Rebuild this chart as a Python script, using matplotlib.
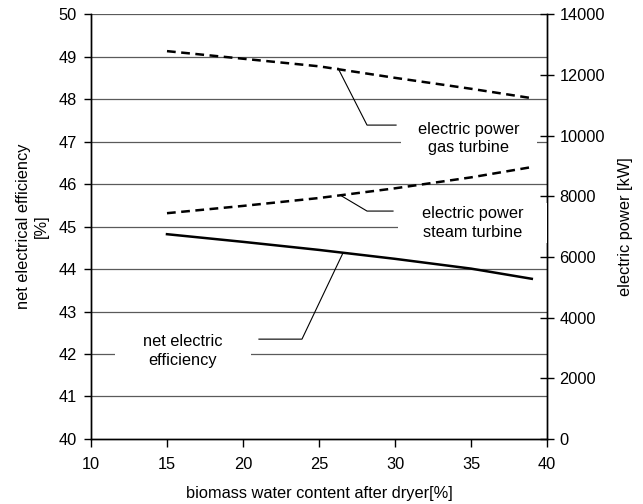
import matplotlib
matplotlib.use("Agg")
import matplotlib.pyplot as plt
from matplotlib.path import Path

plt.rcParams['font.family'] = ['Liberation Sans', 'DejaVu Sans']

water = [15, 20, 25, 30, 35, 39]
efficiency = [44.82, 44.64, 44.45, 44.24, 44.01, 43.77]
power_gas = [12780, 12530, 12280, 11900, 11540, 11230]
power_steam = [7440, 7680, 7940, 8260, 8620, 8960]


class PadBox:
    """Rectangle box with separate horizontal / vertical padding (fraction of font size)."""
    def __init__(self, hpad, vpad):
        self.hpad = hpad
        self.vpad = vpad

    def __call__(self, x0, y0, width, height, mutation_size):
        hp = self.hpad * mutation_size
        vp = self.vpad * mutation_size
        x0, y0 = x0 - hp, y0 - vp
        x1, y1 = x0 + width + 2 * hp, y0 + height + 2 * vp
        return Path([(x0, y0), (x1, y0), (x1, y1), (x0, y1), (x0, y0)],
                    closed=True)


fig = plt.figure(figsize=(6.43, 5.04), dpi=100)
ax = fig.add_axes([0.1415, 0.129, 0.7092, 0.843])
ax2 = ax.twinx()

fs = 11.8
ax.set_xlim(10, 40)
ax.set_ylim(40, 50)
ax2.set_ylim(0, 14000)
ax.set_xticks(range(10, 41, 5))
ax.set_yticks(range(40, 51, 1))
ax2.set_yticks(range(0, 14001, 2000))

for y in range(41, 51):
    ax.axhline(y, color='#5a5a5a', lw=0.9, zorder=1)

for a in (ax, ax2):
    a.spines['top'].set_visible(False)
    for s in a.spines.values():
        s.set_linewidth(1.0)
ax.tick_params(axis='y', direction='out', length=5, width=1, labelsize=fs, pad=5)
ax.tick_params(axis='x', direction='out', length=6, width=1, labelsize=fs, pad=7)
ax2.tick_params(axis='y', direction='inout', length=10, width=1, labelsize=fs, pad=4)

ax.plot(water, efficiency, color='black', lw=1.8, zorder=5)
ax2.plot(water, power_gas, color='black', lw=1.8, ls=(0, (3.5, 2.2)), zorder=5)
ax2.plot(water, power_steam, color='black', lw=1.8, ls=(0, (3.5, 2.2)), zorder=5)

ax.set_xlabel('biomass water content after dryer[%]', fontsize=fs, labelpad=10)
ax.set_ylabel('net electrical efficiency\n[%]', fontsize=fs, labelpad=7,
              linespacing=1.25)
ax2.set_ylabel('electric power [kW]', fontsize=fs, labelpad=9)

ax2.set_zorder(ax.get_zorder() + 1)
ax2.patch.set_visible(False)

# annotations (gas turbine)
ax2.annotate('electric power\ngas turbine', xy=(34.85, 9900), ha='center', va='center',
             fontsize=fs, zorder=3, linespacing=1.3,
             bbox=dict(boxstyle=PadBox(1.06, 0.2), fc='white', ec='none'))
ax2.plot([26.25, 28.16, 30.07], [12220, 10343, 10343], color='black', lw=0.8, zorder=4)

ax2.annotate('electric power\nsteam turbine', xy=(35.13, 7110), ha='center', va='center',
             fontsize=fs, zorder=3, linespacing=1.3,
             bbox=dict(boxstyle=PadBox(1.45, 0.2), fc='white', ec='none'))
ax2.plot([26.5, 28.16, 29.87], [8004, 7510, 7510], color='black', lw=0.8, zorder=4)

ax.annotate('net electric\nefficiency', xy=(16.05, 42.07), ha='center', va='center',
            fontsize=fs, zorder=3, linespacing=1.3,
            bbox=dict(boxstyle=PadBox(1.75, 0.2), fc='white', ec='none'))
ax.plot([26.58, 23.88, 21.05], [44.38, 42.35, 42.35], color='black', lw=0.8, zorder=6)

fig.savefig('out.png', dpi=100)
